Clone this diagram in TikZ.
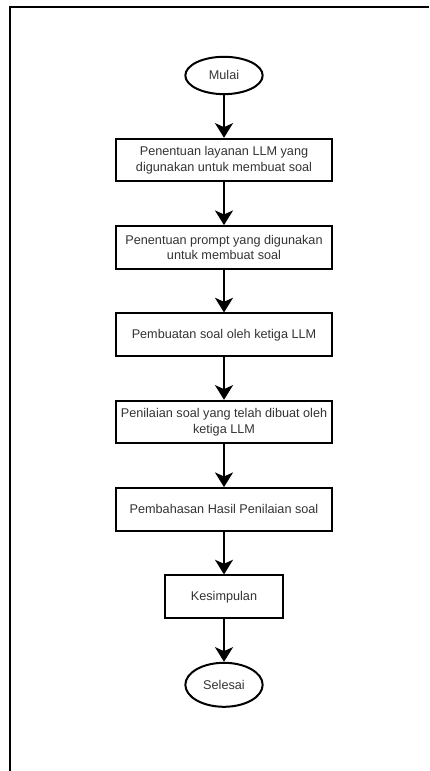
\documentclass[tikz,border=0pt]{standalone}
\usepackage{fontspec}
\setmainfont{Liberation Sans}
\usetikzlibrary{shapes, arrows.meta, positioning}
\tikzstyle{rect} = [rectangle, draw, line width=1.5pt, minimum width=162pt, minimum height=32pt, align=center, inner sep=1pt, text=black!80]
\tikzstyle{term} = [ellipse, draw, line width=1.5pt, minimum width=58pt, minimum height=28pt, inner sep=1pt, text=black!80]
\tikzstyle{line} = [draw, -{Stealth[length=11pt, width=13.5pt, inset=3pt]}, line width=1.5pt]

\begin{document}
\begin{tikzpicture}[node distance=32pt, font=\fontsize{9.5}{11.5}\selectfont]
  \useasboundingbox (0,0) rectangle (321.75pt,-578.25pt);
  \draw [line width=1.5pt] (7.5pt,-578.25pt) -- (7.5pt,-5.6pt) -- (321.75pt,-5.6pt);
  \node (a) [term] at (168pt,-56.6pt) {Mulai};
  \node (b) [rect, below=of a] {Penentuan layanan LLM yang\\digunakan untuk membuat soal};
  \node (c) [rect, below=of b] {Penentuan prompt yang digunakan\\untuk membuat soal};
  \node (d) [rect, below=of c] {Pembuatan soal oleh ketiga LLM};
  \node (e) [rect, below=of d] {Penilaian soal yang telah dibuat oleh\\ketiga LLM};
  \node (f) [rect, below=of e] {Pembahasan Hasil Penilaian soal};
  \node (g) [rect, minimum width=89pt, below=of f] {Kesimpulan};
  \node (h) [term, minimum height=33pt, below=of g] {Selesai};
  \draw [line] (a) -- (b);
  \draw [line] (b) -- (c);
  \draw [line] (c) -- (d);
  \draw [line] (d) -- (e);
  \draw [line] (e) -- (f);
  \draw [line] (f) -- (g);
  \draw [line] (g) -- (h);
\end{tikzpicture}
\end{document}
